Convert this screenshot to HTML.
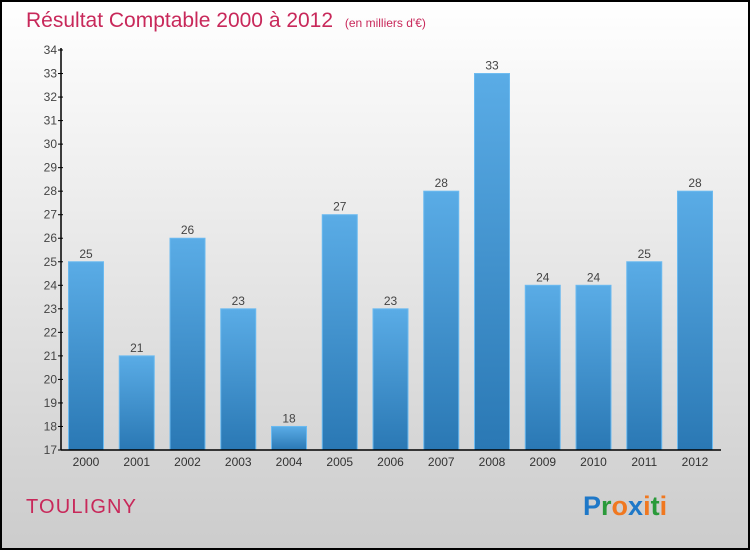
<!DOCTYPE html>
<html><head><meta charset="utf-8"><style>
body{margin:0;}
#wrap{width:750px;height:550px;position:relative;overflow:hidden;}
svg{display:block;font-family:"Liberation Sans",sans-serif;}
</style></head><body>
<div id="wrap">
<svg id="chart" width="750" height="550" viewBox="0 0 750 550">
<defs>
<linearGradient id="bg" x1="0" y1="0" x2="0" y2="1"><stop offset="0" stop-color="#ffffff"/><stop offset="1" stop-color="#cccccc"/></linearGradient>
<linearGradient id="bar" x1="0" y1="0" x2="0" y2="1"><stop offset="0" stop-color="#5aace6"/><stop offset="1" stop-color="#2a78b4"/></linearGradient>
</defs>
<rect x="1" y="1" width="748" height="548" fill="url(#bg)" stroke="#000" stroke-width="2"/>
<text x="26" y="27" font-size="21" fill="#c8285a">Résultat Comptable 2000 à 2012 <tspan font-size="12" dx="6">(en milliers d'€)</tspan></text>
<g id="grid"></g>
<g id="bars"></g>
<g id="axes"></g>
<text x="26" y="513" font-size="20" fill="#c8285a" textLength="110">TOULIGNY</text>
<text x="583" y="515" font-size="27" font-weight="bold"><tspan fill="#1e78c8">P</tspan><tspan fill="#2a9a3a">r</tspan><tspan fill="#f07820">o</tspan><tspan fill="#1e78c8">x</tspan><tspan fill="#f07820">i</tspan><tspan fill="#2a9a3a">t</tspan><tspan fill="#f07820">i</tspan></text>
</svg></div>
<script>
const categories=["2000","2001","2002","2003","2004","2005","2006","2007","2008","2009","2010","2011","2012"];
const values=[25,21,26,23,18,27,23,28,33,24,24,25,28];
const yTicks=[17,18,19,20,21,22,23,24,25,26,27,28,29,30,31,32,33,34];
const NS="http://www.w3.org/2000/svg";
const yMin=17,yMax=34,y0=450,y1=50,xL=61,xR=721;
function y(v){return y0-(v-yMin)/(yMax-yMin)*(y0-y1);}
const step=50.75,first=86,bw=35;
function xc(i){return first+i*step;}
function mk(t,a,p){const e=document.createElementNS(NS,t);for(const k in a)e.setAttribute(k,a[k]);p.appendChild(e);return e;}
const bars=document.getElementById('bars'),axes=document.getElementById('axes');
values.forEach((v,i)=>{
 const r=mk('rect',{x:xc(i)-bw/2,y:y(v),width:bw,height:y0-y(v),fill:'url(#bar)',stroke:'#6bbaf0','stroke-width':1},bars);
 
 
 const t=mk('text',{x:xc(i),y:y(v)-4,'font-size':12,fill:'#444','text-anchor':'middle'},bars);
 t.textContent=v;
 
 
 const c=mk('text',{x:xc(i),y:466,'font-size':12,fill:'#333','text-anchor':'middle'},axes);
 c.textContent=categories[i];
 
 
});
const ya=mk('line',{x1:xL,y1:y1-2,x2:xL,y2:y0,stroke:'#000','stroke-width':1.5},axes);


const xa=mk('line',{x1:xL,y1:y0,x2:xR,y2:y0,stroke:'#000','stroke-width':1.5},axes);


yTicks.forEach(v=>{
 const l=mk('line',{x1:xL-3,y1:y(v),x2:xL+2,y2:y(v),stroke:'#000'},axes);
 
 
 const t=mk('text',{x:xL-4,y:y(v)+4,'font-size':12,fill:'#444','text-anchor':'end'},axes);
 t.textContent=v;
 
 
});
</script>
</body></html>
